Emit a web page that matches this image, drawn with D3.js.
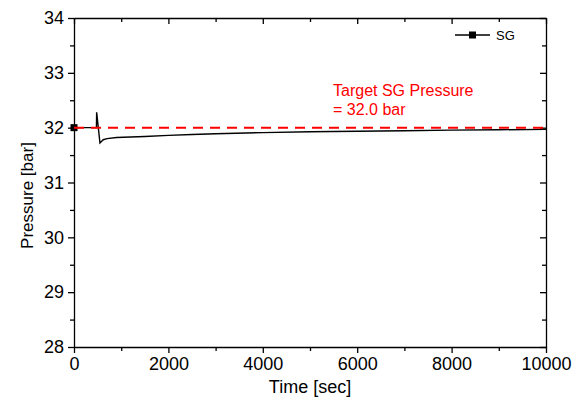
<!DOCTYPE html>
<html>
<head>
<meta charset="utf-8">
<script src="https://cdn.jsdelivr.net/npm/d3@7"></script>
<style>
  body { margin: 0; background: #fff; }
  svg { font-family: "Liberation Sans", Arial, sans-serif; }
  .axis path, .axis line { stroke: #000; stroke-width: 1.3; }
  .axis text { font-size: 18px; fill: #000; }
</style>
</head>
<body>
<svg id="chart" width="586" height="410"></svg>
<script>
// SG pressure history
var times    = [0, 475, 480, 550, 620, 700, 900, 1200, 1500, 2000, 2500, 3000, 4000, 5000, 6000, 7000, 8000, 9000, 10000];
var pressure = [32.0, 32.0, 32.28, 31.72, 31.78, 31.80, 31.82, 31.83, 31.84, 31.86, 31.875, 31.89, 31.91, 31.925, 31.935, 31.945, 31.955, 31.962, 31.968];
var target = 32.0;
var xTicks = [0, 2000, 4000, 6000, 8000, 10000];
var yTicks = [28, 29, 30, 31, 32, 33, 34];

var margin = {top: 18, right: 40, bottom: 63, left: 74},
    width = 586 - margin.left - margin.right,
    height = 410 - margin.top - margin.bottom;

var svg = d3.select("#chart")
  .append("g")
    .attr("transform", "translate(" + margin.left + "," + margin.top + ")");

var x = d3.scaleLinear().domain([0, 10000]).range([0, width]);
var y = d3.scaleLinear().domain([28, 34]).range([height, 0]);

var xMinor = d3.range(0, 10001, 1000).filter(function(d) { return xTicks.indexOf(d) < 0; });
var yMinor = d3.range(28.5, 34, 1);

// minor ticks first
svg.append("g").attr("class", "axis")
  .attr("transform", "translate(0," + height + ")")
  .call(d3.axisBottom(x).tickValues(xMinor).tickSize(4).tickFormat(""))
  .select(".domain").remove();
svg.append("g").attr("class", "axis")
  .call(d3.axisLeft(y).tickValues(yMinor).tickSize(4).tickFormat(""))
  .select(".domain").remove();
svg.append("g").attr("class", "axis")
  .call(d3.axisTop(x).tickValues(xMinor).tickSize(-4).tickFormat(""))
  .select(".domain").remove();
svg.append("g").attr("class", "axis")
  .attr("transform", "translate(" + width + ",0)")
  .call(d3.axisRight(y).tickValues(yMinor).tickSize(-4).tickFormat(""))
  .select(".domain").remove();

// major axes
svg.append("g").attr("class", "axis")
  .attr("transform", "translate(0," + height + ")")
  .call(d3.axisBottom(x).tickValues(xTicks).tickSizeInner(6).tickSizeOuter(0).tickPadding(4).tickFormat(d3.format("d")));
svg.append("g").attr("class", "axis")
  .call(d3.axisLeft(y).tickValues(yTicks).tickSizeInner(6).tickSizeOuter(0).tickPadding(4).tickFormat(d3.format("d")));
svg.append("g").attr("class", "axis")
  .call(d3.axisTop(x).tickValues(xTicks).tickSizeInner(-6).tickSizeOuter(0).tickFormat(""));
svg.append("g").attr("class", "axis")
  .attr("transform", "translate(" + width + ",0)")
  .call(d3.axisRight(y).tickValues(yTicks).tickSizeInner(-6).tickSizeOuter(0).tickFormat(""));

// data line
var line = d3.line()
  .x(function(d, i) { return x(times[i]); })
  .y(function(d) { return y(d); });

svg.append("path")
  .datum(pressure)
  .attr("fill", "none")
  .attr("stroke", "#000")
  .attr("stroke-width", 1.4)
  .attr("d", line);

// symbol on first point
svg.append("rect")
  .attr("x", x(times[0]) - 3.5)
  .attr("y", y(pressure[0]) - 3.5)
  .attr("width", 7)
  .attr("height", 7)
  .attr("fill", "#000");

// target line
svg.append("line")
  .attr("x1", x(0)).attr("x2", x(10000))
  .attr("y1", y(target)).attr("y2", y(target))
  .attr("stroke", "#ff0000")
  .attr("stroke-width", 2)
  .attr("stroke-dasharray", "10,7");

svg.append("text")
  .attr("x", 259).attr("y", 78)
  .attr("fill", "#ff0000").style("font-size", "16px")
  .text("Target SG Pressure");
svg.append("text")
  .attr("x", 259).attr("y", 97)
  .attr("fill", "#ff0000").style("font-size", "16px")
  .text("= 32.0 bar");

// legend
var lg = svg.append("g").attr("transform", "translate(381,17)");
lg.append("line").attr("x1", 0).attr("x2", 35).attr("y1", 0).attr("y2", 0)
  .attr("stroke", "#000").attr("stroke-width", 1.4);
lg.append("rect").attr("x", 14).attr("y", -3.5).attr("width", 7).attr("height", 7).attr("fill", "#000");
lg.append("text").attr("x", 41).attr("y", 5).style("font-size", "13px").text("SG");

// axis titles
svg.append("text")
  .attr("x", width / 2).attr("y", height + 46)
  .attr("text-anchor", "middle").style("font-size", "18px")
  .text("Time [sec]");
svg.append("text")
  .attr("transform", "translate(-41," + (height / 2 + 13) + ") rotate(-90)")
  .attr("text-anchor", "middle").style("font-size", "17px")
  .text("Pressure [bar]");
</script>
</body>
</html>
